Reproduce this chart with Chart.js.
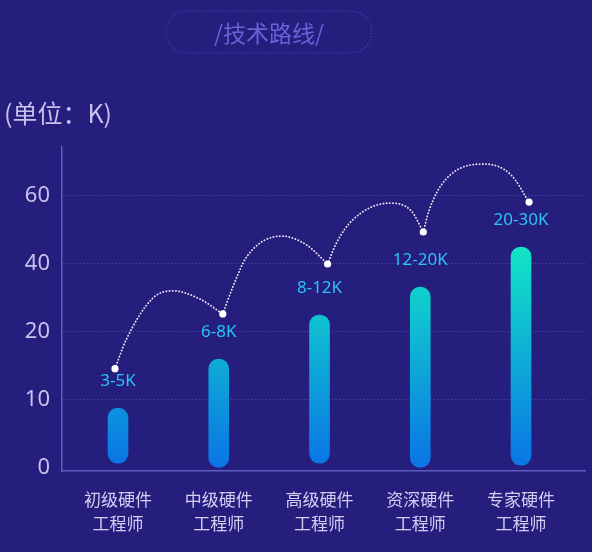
<!DOCTYPE html>
<html>
<head>
<meta charset="utf-8">
<script src="https://cdn.jsdelivr.net/npm/chart.js@4.4.1/dist/chart.umd.min.js"></script>
<style>
  html, body { margin: 0; padding: 0; background: #251e7d; }
  #wrap { width: 592px; height: 552px; }
</style>
</head>
<body>
<div id="wrap"><canvas id="chart" width="592" height="552"></canvas></div>
<script>
// categories and values (K)
var categories = [["初级硬件", "工程师"], ["中级硬件", "工程师"], ["高级硬件", "工程师"], ["资深硬件", "工程师"], ["专家硬件", "工程师"]];
var yTickLabels = [0, 10, 20, 40, 60];
var salaryLabels = ["3-5K", "6-8K", "8-12K", "12-20K", "20-30K"];
var barBottoms = [0.7, 0.1, 0.7, 0.1, 0.4];
var barTops = [8.8, 16.0, 25.0, 33.2, 45.0];

// white dots of the dotted path
var dotX = [-0.03, 1.04, 2.08, 3.03, 4.08];
var dotK = [14.6, 25.3, 40.0, 49.4, 58.2];

// the hops between the dots (x in category units, y in K)
var hopX = [
  [0.079, 0.347, 0.545, 0.812],
  [1.139, 1.277, 1.624, 1.871],
  [2.168, 2.327, 2.693, 2.911],
  [3.089, 3.248, 3.634, 3.901]
];
var hopK = [
  [18.8, 30.0, 32.1, 29.7],
  [33.2, 42.1, 48.2, 45.6],
  [46.2, 52.9, 57.9, 55.6],
  [55.9, 64.7, 69.4, 66.2]
];

// the y axis is evenly spaced on its tick labels, not on the values
function toAxis(k) {
  var t = yTickLabels;
  for (var i = 0; i < t.length - 1; i++) {
    if (k <= t[i + 1] || i == t.length - 2) {
      return i + (k - t[i]) / (t[i + 1] - t[i]);
    }
  }
}

var bgColor = "#251e7d";

var bars = categories.map(function (c, i) {
  return { x: i, y: [toAxis(barBottoms[i]), toAxis(barTops[i])] };
});
var dots = dotX.map(function (x, i) { return { x: x, y: toAxis(dotK[i]) }; });

var datasets = [{
  type: "scatter",
  data: dots,
  pointRadius: 3.6,
  pointBackgroundColor: "#ffffff",
  pointBorderWidth: 0,
  order: 0
}];

for (var h = 0; h < hopX.length; h++) {
  var pts = [dots[h]];
  for (var j = 0; j < hopX[h].length; j++) pts.push({ x: hopX[h][j], y: toAxis(hopK[h][j]) });
  pts.push(dots[h + 1]);
  datasets.push({
    type: "line",
    data: pts,
    borderColor: "rgba(255,255,255,0.9)",
    borderWidth: 1.8,
    borderDash: [0.2, 3],
    borderCapStyle: "round",
    pointRadius: 0,
    cubicInterpolationMode: "monotone",
    fill: false,
    order: 1
  });
}

datasets.push({
  type: "bar",
  data: bars,
  barThickness: 20,
  borderRadius: 10,
  borderSkipped: false,
  backgroundColor: function (ctx) {
    var chart = ctx.chart, ca = chart.chartArea;
    if (!ca) return "#0a78e6";
    var topY = chart.scales.y.getPixelForValue(toAxis(Math.max.apply(null, barTops)));
    var g = chart.ctx.createLinearGradient(0, ca.bottom, 0, topY);
    g.addColorStop(0, "#0a72e6");
    g.addColorStop(1, "#12e6c6");
    return g;
  },
  order: 2
});

var decor = {
  id: "decor",
  beforeDraw: function (chart) {
    var c = chart.ctx;
    c.save();
    c.fillStyle = bgColor;
    c.fillRect(0, 0, chart.width, chart.height);
    c.restore();
  },
  afterDraw: function (chart) {
    var c = chart.ctx;
    c.save();
    // title pill
    c.strokeStyle = "rgba(90,84,190,0.75)";
    c.lineWidth = 1.2;
    c.setLineDash([1, 2]);
    c.beginPath();
    c.roundRect(166, 11, 206, 42, 21);
    c.stroke();
    c.setLineDash([]);
    c.fillStyle = "#6a61d8";
    c.font = "23px 'Noto Sans CJK SC'";
    c.textAlign = "center";
    c.textBaseline = "middle";
    c.fillText("/技术路线/", 269, 33);
    // unit
    c.fillStyle = "#c6c2ee";
    c.font = "25px 'Noto Sans CJK SC'";
    c.textAlign = "left";
    c.fillText("(单位：K)", 4, 113);
    c.restore();
  },
  afterDatasetsDraw: function (chart) {
    var c = chart.ctx, xs = chart.scales.x, ys = chart.scales.y;
    c.save();
    c.fillStyle = "#2ac4f0";
    c.font = "17px 'Noto Sans'";
    c.textAlign = "center";
    c.textBaseline = "middle";
    salaryLabels.forEach(function (s, i) {
      c.fillText(s, xs.getPixelForValue(i), ys.getPixelForValue(toAxis(barTops[i])) - 27);
    });
    c.restore();
  }
};

new Chart(document.getElementById("chart"), {
  data: { datasets: datasets },
  plugins: [decor],
  options: {
    responsive: false,
    animation: false,
    layout: { padding: { top: 147, right: 7, left: 0, bottom: 0 } },
    plugins: { legend: { display: false }, tooltip: { enabled: false } },
    scales: {
      x: {
        type: "linear",
        min: -0.556,
        max: 4.635,
        offset: false,
        afterFit: function (s) { s.height = 81; },
        afterBuildTicks: function (s) { s.ticks = categories.map(function (c, i) { return { value: i }; }); },
        grid: { display: false, drawTicks: false, offset: false },
        border: { display: true, color: "#5f5ac2", width: 1.5 },
        ticks: {
          padding: 17,
          autoSkip: false,
          maxRotation: 0,
          color: "#d2cef2",
          font: { family: "'Noto Sans CJK SC'", size: 17, lineHeight: 1.4 },
          callback: function (v) { return categories[v]; }
        }
      },
      y: {
        type: "linear",
        min: -0.044,
        max: 4.72,
        afterFit: function (s) { s.width = 62; },
        afterBuildTicks: function (s) { s.ticks = yTickLabels.map(function (t, i) { return { value: i }; }); },
        grid: {
          drawTicks: false,
          lineWidth: 1,
          color: function (ctx) { return ctx.tick && ctx.tick.value === 0 ? "rgba(0,0,0,0)" : "rgba(88,82,180,0.6)"; }
        },
        border: { display: true, color: "#625dc4", width: 1.5, dash: [1.5, 2] },
        ticks: {
          padding: 12,
          color: "#c6c2ee",
          font: { family: "'Noto Sans'", size: 22 },
          callback: function (v) { return yTickLabels[v]; }
        }
      }
    }
  }
});
</script>
</body>
</html>
